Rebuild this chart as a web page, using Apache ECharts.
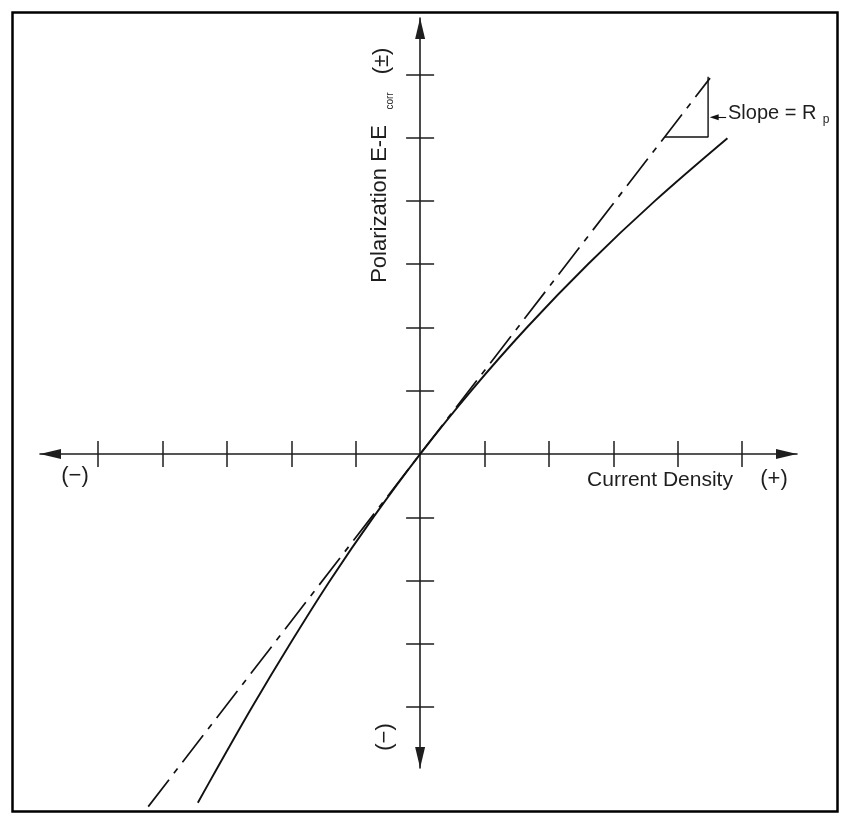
<!DOCTYPE html>
<html><head><meta charset="utf-8">
<script src="https://cdn.jsdelivr.net/npm/echarts@6/dist/echarts.min.js"></script>
<style>html,body{margin:0;padding:0;background:#fff}#c{width:843px;height:816px}</style>
</head><body><div id="c"></div>
<script>
// ---- data (axis units) ----
const xTicks = [-5, -4, -3, -2, -1, 1, 2, 3, 4, 5];
const yTicks = [-4, -3, -2, -1, 1, 2, 3, 4, 5, 6];
const curveX = [-3.45, -3.17, -2.61, -2.02, -1.40, -0.727, 0, 0.792, 1.657, 2.605, 3.645, 4.77];
const curveY = [-5.51, -5.0, -4.0, -3.0, -2.0, -1.0, 0, 1.0, 2.0, 3.0, 4.0, 4.99];
const tangentX = [-4.22, 0, 4.50];
const tangentY = [-5.57, 0, 5.94];
const triangleX = [3.80, 4.47, 4.47];
const triangleY = [5.01, 5.01, 5.96];
const pointerX = [4.75, 4.565];
const pointerY = [5.32, 5.32];
const xRange = [-5.9, 5.85];
const yRange = [-4.96, 6.89];

const zip = (a, b) => a.map((v, i) => [v, b[i]]);
const FONT = '"Liberation Sans", Arial, Helvetica, sans-serif';
const INK = '#1e1e1e';

const axisLineStyle = { color: INK, width: 1.6 };
function xAx(pos, showLine) {
  return {
    type: 'value', min: xRange[0], max: xRange[1], position: pos,
    axisLine: { show: showLine, onZero: true, onZeroAxisIndex: 0,
      symbol: ['triangle', 'triangle'], symbolSize: [10, 21], symbolOffset: [10.5, -10.5],
      lineStyle: axisLineStyle },
    axisTick: { show: true, customValues: xTicks, length: 13, lineStyle: { color: INK, width: 1.5 } },
    axisLabel: { show: false }, splitLine: { show: false }
  };
}
function yAx(pos, showLine) {
  return {
    type: 'value', min: yRange[0], max: yRange[1], position: pos,
    axisLine: { show: showLine, onZero: true, onZeroAxisIndex: 0,
      symbol: ['triangle', 'triangle'], symbolSize: [10, 21], symbolOffset: [10.5, -10.5],
      lineStyle: axisLineStyle },
    axisTick: { show: true, customValues: yTicks, length: 14, lineStyle: { color: INK, width: 1.5 } },
    axisLabel: { show: false }, splitLine: { show: false }
  };
}

const chart = echarts.init(document.getElementById('c'), null, { renderer: 'canvas' });
chart.setOption({
  animation: false,
  backgroundColor: '#fff',
  grid: { left: 40, top: 18, width: 757, height: 750, containLabel: false },
  xAxis: [xAx('bottom', true), xAx('top', false)],
  yAxis: [yAx('left', true), yAx('right', false)],
  series: [
    { type: 'line', data: zip(curveX, curveY), smooth: 0.35, symbol: 'none', clip: false,
      lineStyle: { color: '#111', width: 1.9 } },
    { type: 'line', data: zip(tangentX, tangentY), symbol: 'none', clip: false,
      lineStyle: { color: '#111', width: 1.7, type: [34, 8, 6, 8] } },
    { type: 'line', data: zip(triangleX, triangleY), symbol: 'none', clip: false,
      lineStyle: { color: '#111', width: 1.4 },
      markLine: { silent: true, symbol: ['none', 'triangle'], symbolSize: [6, 9],
        label: { show: false }, lineStyle: { color: '#111', width: 1.1, type: 'solid' },
        data: [[{ coord: [pointerX[0], pointerY[0]] }, { coord: [pointerX[1], pointerY[1]] }]] } }
  ],
  graphic: [
    { type: 'rect', shape: { x: 12.5, y: 12.5, width: 825, height: 799 },
      style: { fill: 'none', stroke: '#000', lineWidth: 2.5 }, z: 100 },
    { type: 'text', x: 380, y: 204, rotation: Math.PI / 2,
      style: { text: 'Polarization E-E', font: '22px ' + FONT, fill: INK, align: 'center', verticalAlign: 'middle' } },
    { type: 'text', x: 390, y: 101, rotation: Math.PI / 2,
      style: { text: 'corr', font: '10px ' + FONT, fill: INK, align: 'center', verticalAlign: 'middle' } },
    { type: 'text', x: 382, y: 61, rotation: Math.PI / 2,
      style: { text: '(±)', font: '22px ' + FONT, fill: INK, align: 'center', verticalAlign: 'middle' } },
    { type: 'text', x: 385, y: 737, rotation: Math.PI / 2,
      style: { text: '(−)', font: '22px ' + FONT, fill: INK, align: 'center', verticalAlign: 'middle' } },
    { type: 'text', x: 75, y: 476,
      style: { text: '(−)', font: '22px ' + FONT, fill: INK, align: 'center', verticalAlign: 'middle' } },
    { type: 'text', x: 660, y: 480,
      style: { text: 'Current Density', font: '21px ' + FONT, fill: INK, align: 'center', verticalAlign: 'middle' } },
    { type: 'text', x: 774, y: 479,
      style: { text: '(+)', font: '22px ' + FONT, fill: INK, align: 'center', verticalAlign: 'middle' } },
    { type: 'text', x: 728, y: 113,
      style: { text: 'Slope = R', font: '20px ' + FONT, fill: INK, align: 'left', verticalAlign: 'middle' } },
    { type: 'text', x: 826, y: 120,
      style: { text: 'p', font: '12px ' + FONT, fill: INK, align: 'center', verticalAlign: 'middle' } }
  ]
});
</script></body></html>
